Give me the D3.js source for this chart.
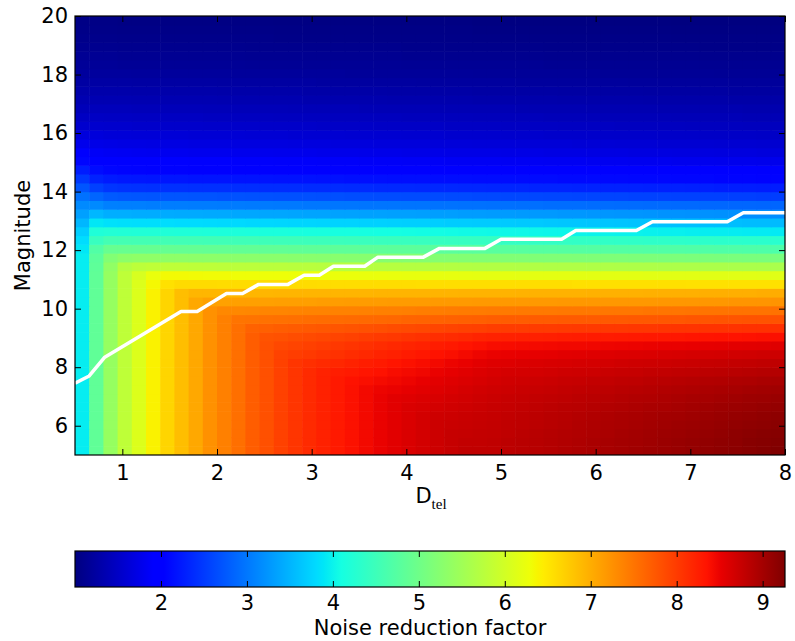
<!DOCTYPE html>
<html>
<head>
<meta charset="utf-8">
<script src="https://cdn.jsdelivr.net/npm/d3@7"></script>
<style>
  body { margin: 0; background: #fff; }
  svg text { font-family: "DejaVu Sans", sans-serif; fill: #000; }
</style>
</head>
<body>
<svg id="chart" width="795" height="641"></svg>
<script>
// Telescope diameter (cell centres, m)
const dtel = [0.575,0.725,0.875,1.025,1.175,1.325,1.475,1.625,1.775,1.925,2.075,2.225,2.375,2.525,2.675,2.825,2.975,3.125,3.275,3.425,3.575,3.725,3.875,4.025,4.175,4.325,4.475,4.625,4.775,4.925,5.075,5.225,5.375,5.525,5.675,5.825,5.975,6.125,6.275,6.425,6.575,6.725,6.875,7.025,7.175,7.325,7.475,7.625,7.775,7.925];

// Stellar magnitude (cell centres)
const magnitude = [5.15,5.45,5.75,6.05,6.35,6.65,6.95,7.25,7.55,7.85,8.15,8.45,8.75,9.05,9.35,9.65,9.95,10.25,10.55,10.85,11.15,11.45,11.75,12.05,12.35,12.65,12.95,13.25,13.55,13.85,14.15,14.45,14.75,15.05,15.35,15.65,15.95,16.25,16.55,16.85,17.15,17.45,17.75,18.05,18.35,18.65,18.95,19.25,19.55,19.85];

// Noise reduction factor: one row per magnitude, one column per diameter
const noiseFactor = [
[3.95,4.85,5.4,5.8,6.1,6.4,6.65,6.85,7.05,7.25,7.4,7.55,7.7,7.82,7.95,8.05,8.15,8.23,8.3,8.37,8.44,8.5,8.56,8.62,8.67,8.72,8.76,8.8,8.8,8.8,8.83,8.85,8.87,8.89,8.92,8.94,8.96,8.98,9.0,9.03,9.05,9.07,9.09,9.12,9.14,9.16,9.18,9.2,9.23,9.26],
[3.95,4.85,5.4,5.8,6.1,6.4,6.65,6.85,7.05,7.25,7.4,7.55,7.7,7.82,7.95,8.05,8.15,8.23,8.3,8.37,8.44,8.5,8.56,8.62,8.67,8.72,8.76,8.79,8.79,8.8,8.83,8.85,8.87,8.89,8.91,8.93,8.96,8.98,9.0,9.02,9.04,9.07,9.09,9.11,9.13,9.15,9.17,9.2,9.22,9.24],
[3.95,4.85,5.4,5.8,6.1,6.4,6.65,6.85,7.05,7.25,7.4,7.55,7.7,7.82,7.95,8.05,8.15,8.23,8.3,8.37,8.44,8.5,8.56,8.62,8.67,8.72,8.76,8.77,8.78,8.79,8.81,8.84,8.86,8.88,8.9,8.92,8.94,8.96,8.99,9.01,9.03,9.05,9.07,9.09,9.11,9.13,9.16,9.18,9.2,9.22],
[3.95,4.85,5.4,5.8,6.1,6.4,6.65,6.85,7.05,7.25,7.4,7.55,7.7,7.82,7.95,8.05,8.15,8.23,8.3,8.37,8.44,8.5,8.56,8.62,8.67,8.72,8.74,8.75,8.77,8.78,8.8,8.82,8.84,8.86,8.88,8.91,8.93,8.95,8.97,8.99,9.01,9.03,9.05,9.07,9.09,9.11,9.13,9.15,9.17,9.19],
[3.95,4.85,5.4,5.8,6.1,6.4,6.65,6.85,7.05,7.25,7.4,7.55,7.7,7.82,7.95,8.05,8.15,8.23,8.3,8.37,8.44,8.5,8.56,8.62,8.67,8.7,8.72,8.74,8.75,8.77,8.79,8.81,8.83,8.85,8.87,8.89,8.91,8.93,8.95,8.97,8.99,9.01,9.02,9.04,9.06,9.08,9.1,9.12,9.14,9.16],
[3.95,4.85,5.4,5.8,6.1,6.4,6.65,6.85,7.05,7.25,7.4,7.55,7.7,7.82,7.95,8.05,8.15,8.23,8.3,8.37,8.44,8.5,8.56,8.62,8.64,8.67,8.69,8.71,8.73,8.75,8.77,8.79,8.81,8.83,8.85,8.86,8.88,8.9,8.92,8.94,8.96,8.97,8.99,9.01,9.03,9.05,9.07,9.08,9.1,9.12],
[3.95,4.85,5.4,5.8,6.1,6.4,6.65,6.85,7.05,7.25,7.4,7.55,7.7,7.82,7.95,8.05,8.15,8.23,8.3,8.37,8.44,8.5,8.56,8.58,8.61,8.63,8.66,8.68,8.71,8.73,8.75,8.77,8.79,8.8,8.82,8.84,8.85,8.87,8.89,8.91,8.92,8.94,8.96,8.98,8.99,9.01,9.03,9.05,9.06,9.08],
[3.95,4.85,5.4,5.8,6.1,6.4,6.65,6.85,7.05,7.25,7.4,7.55,7.7,7.82,7.95,8.05,8.15,8.23,8.3,8.37,8.44,8.48,8.5,8.53,8.56,8.59,8.62,8.65,8.68,8.7,8.72,8.74,8.75,8.77,8.79,8.8,8.82,8.83,8.85,8.87,8.88,8.9,8.92,8.93,8.95,8.97,8.98,9.0,9.02,9.03],
[3.95,4.85,5.4,5.8,6.1,6.4,6.65,6.85,7.05,7.25,7.4,7.55,7.7,7.82,7.95,8.05,8.15,8.23,8.3,8.36,8.39,8.42,8.45,8.48,8.52,8.55,8.58,8.61,8.64,8.67,8.69,8.7,8.72,8.73,8.75,8.76,8.78,8.79,8.81,8.82,8.84,8.85,8.87,8.88,8.9,8.91,8.93,8.94,8.96,8.97],
[3.95,4.85,5.4,5.8,6.1,6.4,6.65,6.85,7.05,7.25,7.4,7.55,7.7,7.82,7.95,8.05,8.15,8.22,8.26,8.29,8.33,8.36,8.4,8.43,8.46,8.5,8.53,8.57,8.6,8.63,8.65,8.66,8.67,8.68,8.7,8.71,8.72,8.74,8.75,8.76,8.78,8.79,8.8,8.81,8.83,8.84,8.85,8.87,8.88,8.89],
[3.95,4.85,5.4,5.8,6.1,6.4,6.65,6.85,7.05,7.25,7.4,7.55,7.7,7.82,7.95,8.05,8.11,8.15,8.18,8.22,8.26,8.29,8.33,8.37,8.4,8.44,8.48,8.51,8.55,8.58,8.59,8.61,8.62,8.63,8.64,8.65,8.66,8.67,8.69,8.7,8.71,8.72,8.73,8.74,8.76,8.77,8.78,8.79,8.8,8.81],
[3.95,4.85,5.4,5.8,6.1,6.4,6.65,6.85,7.05,7.25,7.4,7.55,7.7,7.82,7.94,7.98,8.02,8.06,8.09,8.13,8.17,8.21,8.24,8.28,8.32,8.36,8.39,8.43,8.47,8.5,8.51,8.52,8.53,8.54,8.56,8.57,8.58,8.59,8.6,8.61,8.62,8.63,8.64,8.65,8.66,8.67,8.68,8.69,8.7,8.71],
[3.95,4.85,5.4,5.8,6.1,6.4,6.65,6.85,7.05,7.25,7.4,7.55,7.7,7.82,7.89,7.92,7.96,7.99,8.03,8.06,8.1,8.13,8.17,8.2,8.23,8.27,8.3,8.34,8.37,8.4,8.41,8.42,8.43,8.44,8.45,8.45,8.46,8.47,8.48,8.49,8.5,8.51,8.51,8.52,8.53,8.54,8.55,8.56,8.57,8.58],
[3.95,4.85,5.4,5.8,6.1,6.4,6.65,6.85,7.05,7.25,7.4,7.55,7.7,7.79,7.81,7.84,7.87,7.9,7.92,7.95,7.98,8.01,8.03,8.06,8.09,8.12,8.14,8.17,8.2,8.22,8.23,8.24,8.24,8.25,8.26,8.27,8.28,8.28,8.29,8.3,8.31,8.31,8.32,8.33,8.34,8.35,8.35,8.36,8.37,8.38],
[3.95,4.85,5.4,5.8,6.1,6.4,6.65,6.85,7.05,7.25,7.4,7.55,7.66,7.68,7.7,7.72,7.74,7.76,7.77,7.79,7.81,7.83,7.85,7.87,7.89,7.91,7.93,7.95,7.96,7.98,7.99,7.99,8.0,8.0,8.01,8.02,8.02,8.03,8.03,8.04,8.04,8.05,8.06,8.06,8.07,8.07,8.08,8.09,8.09,8.1],
[3.95,4.85,5.4,5.8,6.1,6.4,6.65,6.85,7.05,7.25,7.4,7.5,7.51,7.53,7.54,7.55,7.56,7.57,7.58,7.59,7.6,7.61,7.62,7.64,7.65,7.66,7.67,7.68,7.69,7.7,7.71,7.71,7.72,7.72,7.73,7.73,7.73,7.74,7.74,7.75,7.75,7.76,7.76,7.77,7.77,7.78,7.78,7.79,7.79,7.8],
[3.95,4.85,5.4,5.8,6.1,6.4,6.65,6.85,7.05,7.25,7.33,7.33,7.34,7.35,7.35,7.36,7.37,7.37,7.38,7.38,7.39,7.4,7.4,7.41,7.42,7.42,7.43,7.44,7.44,7.45,7.45,7.46,7.46,7.46,7.47,7.47,7.47,7.48,7.48,7.48,7.49,7.49,7.49,7.5,7.5,7.5,7.51,7.51,7.51,7.52],
[3.95,4.85,5.4,5.8,6.1,6.4,6.65,6.85,7.05,7.11,7.11,7.12,7.12,7.12,7.13,7.13,7.13,7.14,7.14,7.15,7.15,7.15,7.16,7.16,7.16,7.17,7.17,7.17,7.18,7.18,7.18,7.18,7.18,7.18,7.19,7.19,7.19,7.19,7.19,7.19,7.19,7.2,7.2,7.2,7.2,7.2,7.21,7.21,7.21,7.22],
[3.95,4.85,5.4,5.8,6.1,6.4,6.65,6.85,6.92,6.92,6.92,6.92,6.92,6.92,6.93,6.93,6.93,6.93,6.93,6.93,6.93,6.94,6.94,6.94,6.94,6.94,6.94,6.95,6.95,6.95,6.95,6.96,6.96,6.96,6.96,6.96,6.97,6.97,6.97,6.97,6.98,6.98,6.98,6.98,6.99,6.99,6.99,6.99,7.0,7.0],
[3.95,4.85,5.4,5.8,6.1,6.35,6.55,6.6,6.6,6.6,6.59,6.59,6.59,6.59,6.59,6.59,6.59,6.58,6.58,6.58,6.58,6.58,6.58,6.58,6.57,6.57,6.57,6.57,6.57,6.57,6.57,6.57,6.57,6.57,6.57,6.56,6.56,6.56,6.56,6.56,6.56,6.56,6.56,6.55,6.55,6.55,6.55,6.55,6.55,6.55],
[3.95,4.85,5.4,5.8,6.05,6.25,6.33,6.33,6.32,6.31,6.31,6.3,6.3,6.29,6.29,6.28,6.27,6.27,6.26,6.26,6.25,6.25,6.24,6.23,6.23,6.22,6.22,6.21,6.2,6.2,6.2,6.19,6.19,6.19,6.19,6.18,6.18,6.18,6.18,6.18,6.17,6.17,6.17,6.17,6.16,6.16,6.16,6.16,6.15,6.15],
[3.95,4.83,5.35,5.7,5.78,5.81,5.8,5.8,5.79,5.79,5.78,5.77,5.77,5.76,5.76,5.75,5.75,5.74,5.74,5.73,5.73,5.72,5.72,5.71,5.71,5.7,5.7,5.69,5.68,5.68,5.68,5.67,5.67,5.66,5.66,5.66,5.65,5.65,5.64,5.64,5.64,5.63,5.63,5.63,5.62,5.62,5.61,5.61,5.61,5.6],
[3.95,4.8,5.2,5.3,5.33,5.33,5.32,5.32,5.31,5.31,5.3,5.29,5.29,5.28,5.28,5.27,5.27,5.26,5.26,5.25,5.25,5.24,5.24,5.23,5.23,5.22,5.22,5.21,5.2,5.2,5.19,5.19,5.18,5.18,5.18,5.17,5.17,5.16,5.16,5.15,5.15,5.14,5.14,5.13,5.13,5.12,5.12,5.11,5.11,5.1],
[3.9,4.7,4.92,4.92,4.91,4.91,4.9,4.89,4.89,4.88,4.88,4.87,4.87,4.86,4.86,4.85,4.84,4.84,4.83,4.83,4.82,4.82,4.81,4.81,4.8,4.79,4.79,4.78,4.78,4.77,4.77,4.76,4.75,4.75,4.74,4.74,4.73,4.73,4.72,4.72,4.71,4.7,4.7,4.69,4.69,4.68,4.68,4.67,4.67,4.66],
[3.82,4.45,4.57,4.57,4.56,4.56,4.55,4.54,4.54,4.53,4.53,4.52,4.52,4.51,4.5,4.5,4.49,4.49,4.48,4.47,4.47,4.46,4.46,4.45,4.45,4.44,4.43,4.43,4.42,4.42,4.41,4.4,4.4,4.39,4.39,4.38,4.38,4.37,4.36,4.36,4.35,4.35,4.34,4.33,4.33,4.32,4.32,4.31,4.31,4.3],
[3.7,4.2,4.23,4.22,4.21,4.21,4.2,4.19,4.19,4.18,4.17,4.17,4.16,4.15,4.15,4.14,4.13,4.13,4.12,4.12,4.11,4.1,4.1,4.09,4.08,4.08,4.07,4.06,4.06,4.05,4.04,4.04,4.03,4.02,4.02,4.01,4.0,4.0,3.99,3.99,3.98,3.97,3.97,3.96,3.95,3.95,3.94,3.93,3.93,3.92],
[3.52,3.9,3.85,3.84,3.83,3.83,3.82,3.81,3.81,3.8,3.79,3.79,3.78,3.78,3.77,3.76,3.76,3.75,3.74,3.74,3.73,3.73,3.72,3.71,3.71,3.7,3.69,3.69,3.68,3.68,3.67,3.66,3.66,3.65,3.64,3.64,3.63,3.63,3.62,3.61,3.61,3.6,3.59,3.59,3.58,3.58,3.57,3.56,3.56,3.55],
[3.33,3.52,3.44,3.44,3.43,3.43,3.42,3.41,3.41,3.4,3.4,3.39,3.39,3.38,3.38,3.37,3.36,3.36,3.35,3.35,3.34,3.34,3.33,3.33,3.32,3.31,3.31,3.3,3.3,3.29,3.29,3.28,3.27,3.27,3.26,3.26,3.25,3.25,3.24,3.24,3.23,3.22,3.22,3.21,3.21,3.2,3.2,3.19,3.19,3.18],
[3.15,3.15,3.07,3.06,3.06,3.05,3.05,3.05,3.04,3.04,3.03,3.03,3.02,3.02,3.01,3.01,3.0,3.0,2.99,2.99,2.98,2.98,2.98,2.97,2.97,2.96,2.96,2.95,2.95,2.94,2.94,2.93,2.93,2.92,2.92,2.92,2.91,2.91,2.9,2.9,2.89,2.89,2.88,2.88,2.87,2.87,2.86,2.86,2.85,2.85],
[2.95,2.85,2.76,2.74,2.73,2.72,2.72,2.72,2.71,2.71,2.7,2.7,2.69,2.69,2.68,2.68,2.68,2.67,2.67,2.66,2.66,2.65,2.65,2.64,2.64,2.64,2.63,2.63,2.62,2.62,2.61,2.61,2.61,2.6,2.6,2.59,2.59,2.58,2.58,2.57,2.57,2.57,2.56,2.56,2.55,2.55,2.54,2.54,2.53,2.53],
[2.72,2.55,2.46,2.44,2.43,2.42,2.42,2.42,2.41,2.41,2.41,2.4,2.4,2.39,2.39,2.39,2.38,2.38,2.38,2.37,2.37,2.36,2.36,2.36,2.35,2.35,2.35,2.34,2.34,2.33,2.33,2.33,2.32,2.32,2.32,2.31,2.31,2.3,2.3,2.3,2.29,2.29,2.29,2.28,2.28,2.27,2.27,2.27,2.26,2.26],
[2.48,2.3,2.24,2.22,2.21,2.2,2.2,2.2,2.19,2.19,2.19,2.18,2.18,2.18,2.17,2.17,2.17,2.16,2.16,2.15,2.15,2.15,2.14,2.14,2.14,2.13,2.13,2.13,2.12,2.12,2.12,2.11,2.11,2.11,2.1,2.1,2.1,2.09,2.09,2.08,2.08,2.08,2.07,2.07,2.07,2.06,2.06,2.06,2.05,2.05],
[2.26,2.12,2.07,2.06,2.05,2.04,2.04,2.04,2.03,2.03,2.03,2.02,2.02,2.02,2.01,2.01,2.01,2.0,2.0,2.0,1.99,1.99,1.99,1.98,1.98,1.98,1.97,1.97,1.97,1.97,1.96,1.96,1.96,1.95,1.95,1.95,1.94,1.94,1.94,1.93,1.93,1.93,1.92,1.92,1.92,1.91,1.91,1.91,1.9,1.9],
[2.07,1.97,1.94,1.93,1.92,1.91,1.91,1.91,1.9,1.9,1.9,1.89,1.89,1.89,1.88,1.88,1.88,1.87,1.87,1.87,1.86,1.86,1.86,1.85,1.85,1.85,1.84,1.84,1.84,1.84,1.83,1.83,1.83,1.82,1.82,1.82,1.81,1.81,1.81,1.8,1.8,1.8,1.79,1.79,1.79,1.78,1.78,1.78,1.77,1.77],
[1.9,1.85,1.83,1.82,1.81,1.8,1.8,1.8,1.79,1.79,1.79,1.78,1.78,1.78,1.77,1.77,1.77,1.76,1.76,1.76,1.75,1.75,1.75,1.74,1.74,1.74,1.73,1.73,1.73,1.73,1.72,1.72,1.72,1.71,1.71,1.71,1.7,1.7,1.7,1.69,1.69,1.69,1.68,1.68,1.68,1.67,1.67,1.67,1.66,1.66],
[1.77,1.74,1.72,1.71,1.71,1.7,1.7,1.7,1.69,1.69,1.69,1.68,1.68,1.68,1.68,1.67,1.67,1.67,1.66,1.66,1.66,1.65,1.65,1.65,1.65,1.64,1.64,1.64,1.63,1.63,1.63,1.62,1.62,1.62,1.62,1.61,1.61,1.61,1.6,1.6,1.6,1.59,1.59,1.59,1.59,1.58,1.58,1.58,1.57,1.57],
[1.66,1.65,1.63,1.63,1.62,1.62,1.62,1.62,1.61,1.61,1.61,1.61,1.6,1.6,1.6,1.59,1.59,1.59,1.59,1.58,1.58,1.58,1.58,1.57,1.57,1.57,1.56,1.56,1.56,1.56,1.55,1.55,1.55,1.54,1.54,1.54,1.54,1.53,1.53,1.53,1.53,1.52,1.52,1.52,1.51,1.51,1.51,1.51,1.5,1.5],
[1.56,1.56,1.55,1.55,1.54,1.54,1.54,1.54,1.54,1.53,1.53,1.53,1.53,1.52,1.52,1.52,1.52,1.51,1.51,1.51,1.51,1.5,1.5,1.5,1.5,1.5,1.49,1.49,1.49,1.49,1.48,1.48,1.48,1.48,1.47,1.47,1.47,1.47,1.46,1.46,1.46,1.46,1.46,1.45,1.45,1.45,1.45,1.44,1.44,1.44],
[1.48,1.49,1.48,1.48,1.47,1.47,1.47,1.47,1.47,1.46,1.46,1.46,1.46,1.46,1.45,1.45,1.45,1.45,1.44,1.44,1.44,1.44,1.44,1.43,1.43,1.43,1.43,1.43,1.42,1.42,1.42,1.42,1.42,1.41,1.41,1.41,1.41,1.4,1.4,1.4,1.4,1.4,1.39,1.39,1.39,1.39,1.39,1.38,1.38,1.38],
[1.41,1.42,1.42,1.42,1.41,1.41,1.41,1.41,1.41,1.4,1.4,1.4,1.4,1.4,1.4,1.39,1.39,1.39,1.39,1.39,1.38,1.38,1.38,1.38,1.38,1.37,1.37,1.37,1.37,1.37,1.37,1.36,1.36,1.36,1.36,1.36,1.35,1.35,1.35,1.35,1.35,1.34,1.34,1.34,1.34,1.34,1.34,1.33,1.33,1.33],
[1.35,1.36,1.36,1.36,1.35,1.35,1.35,1.35,1.35,1.35,1.34,1.34,1.34,1.34,1.34,1.34,1.33,1.33,1.33,1.33,1.33,1.33,1.32,1.32,1.32,1.32,1.32,1.32,1.31,1.31,1.31,1.31,1.31,1.31,1.3,1.3,1.3,1.3,1.3,1.3,1.29,1.29,1.29,1.29,1.29,1.29,1.28,1.28,1.28,1.28],
[1.3,1.31,1.31,1.31,1.3,1.3,1.3,1.3,1.3,1.3,1.29,1.29,1.29,1.29,1.29,1.29,1.28,1.28,1.28,1.28,1.28,1.28,1.27,1.27,1.27,1.27,1.27,1.27,1.26,1.26,1.26,1.26,1.26,1.26,1.25,1.25,1.25,1.25,1.25,1.25,1.24,1.24,1.24,1.24,1.24,1.24,1.23,1.23,1.23,1.23],
[1.25,1.26,1.26,1.26,1.25,1.25,1.25,1.25,1.25,1.25,1.24,1.24,1.24,1.24,1.24,1.24,1.24,1.23,1.23,1.23,1.23,1.23,1.23,1.23,1.22,1.22,1.22,1.22,1.22,1.22,1.22,1.21,1.21,1.21,1.21,1.21,1.21,1.21,1.21,1.2,1.2,1.2,1.2,1.2,1.2,1.2,1.19,1.19,1.19,1.19],
[1.21,1.21,1.21,1.21,1.2,1.2,1.2,1.2,1.2,1.2,1.2,1.19,1.19,1.19,1.19,1.19,1.19,1.19,1.19,1.18,1.18,1.18,1.18,1.18,1.18,1.18,1.18,1.18,1.17,1.17,1.17,1.17,1.17,1.17,1.17,1.17,1.17,1.16,1.16,1.16,1.16,1.16,1.16,1.16,1.16,1.15,1.15,1.15,1.15,1.15],
[1.17,1.17,1.17,1.16,1.16,1.16,1.16,1.16,1.16,1.16,1.16,1.16,1.15,1.15,1.15,1.15,1.15,1.15,1.15,1.15,1.15,1.15,1.15,1.14,1.14,1.14,1.14,1.14,1.14,1.14,1.14,1.14,1.14,1.13,1.13,1.13,1.13,1.13,1.13,1.13,1.13,1.13,1.13,1.13,1.12,1.12,1.12,1.12,1.12,1.12],
[1.14,1.14,1.14,1.13,1.13,1.13,1.13,1.13,1.13,1.13,1.13,1.13,1.12,1.12,1.12,1.12,1.12,1.12,1.12,1.12,1.12,1.12,1.12,1.11,1.11,1.11,1.11,1.11,1.11,1.11,1.11,1.11,1.11,1.1,1.1,1.1,1.1,1.1,1.1,1.1,1.1,1.1,1.1,1.1,1.09,1.09,1.09,1.09,1.09,1.09],
[1.11,1.11,1.11,1.1,1.1,1.1,1.1,1.1,1.1,1.1,1.1,1.1,1.09,1.09,1.09,1.09,1.09,1.09,1.09,1.09,1.09,1.09,1.09,1.08,1.08,1.08,1.08,1.08,1.08,1.08,1.08,1.08,1.08,1.07,1.07,1.07,1.07,1.07,1.07,1.07,1.07,1.07,1.07,1.07,1.06,1.06,1.06,1.06,1.06,1.06],
[1.08,1.08,1.08,1.07,1.07,1.07,1.07,1.07,1.07,1.07,1.07,1.07,1.07,1.07,1.06,1.06,1.06,1.06,1.06,1.06,1.06,1.06,1.06,1.06,1.06,1.06,1.06,1.06,1.05,1.05,1.05,1.05,1.05,1.05,1.05,1.05,1.05,1.05,1.05,1.05,1.05,1.05,1.04,1.04,1.04,1.04,1.04,1.04,1.04,1.04],
[1.06,1.06,1.06,1.05,1.05,1.05,1.05,1.05,1.05,1.05,1.05,1.05,1.05,1.05,1.04,1.04,1.04,1.04,1.04,1.04,1.04,1.04,1.04,1.04,1.04,1.04,1.04,1.04,1.03,1.03,1.03,1.03,1.03,1.03,1.03,1.03,1.03,1.03,1.03,1.03,1.03,1.03,1.02,1.02,1.02,1.02,1.02,1.02,1.02,1.02],
[1.04,1.04,1.04,1.03,1.03,1.03,1.03,1.03,1.03,1.03,1.03,1.03,1.03,1.03,1.02,1.02,1.02,1.02,1.02,1.02,1.02,1.02,1.02,1.02,1.02,1.02,1.02,1.02,1.01,1.01,1.01,1.01,1.01,1.01,1.01,1.01,1.01,1.01,1.01,1.01,1.01,1.01,1.0,1.0,1.0,1.0,1.0,1.0,1.0,1.0]
];

// Limiting magnitude curve
const limitD   = [0.5, 0.65, 0.81, 1.62, 1.79, 2.1, 2.27, 2.44, 2.75, 2.92, 3.08, 3.23, 3.56, 3.7, 4.18, 4.35, 4.83, 5.0, 5.64, 5.79, 6.43, 6.6, 7.39, 7.56, 8.0];
const limitMag = [7.45, 7.7, 8.33, 9.9, 9.9, 10.52, 10.52, 10.83, 10.83, 11.14, 11.14, 11.45, 11.45, 11.76, 11.76, 12.06, 12.06, 12.37, 12.37, 12.67, 12.67, 12.97, 12.97, 13.28, 13.28];

const xTicks = [1, 2, 3, 4, 5, 6, 7, 8];
const yTicks = [6, 8, 10, 12, 14, 16, 18, 20];
const barTicks = [2, 3, 4, 5, 6, 7, 8, 9];

// ---------------------------------------------------------------------------
const svg = d3.select("#chart");
const FONT = 21;
const plot = { left: 75, right: 785, top: 16, bottom: 455 };
const bar = { top: 551, bottom: 587 };

const x = d3.scaleLinear().domain([0.5, 8]).range([plot.left, plot.right]);
const y = d3.scaleLinear().domain([5, 20]).range([plot.bottom, plot.top]);

// jet colour map, piecewise linear between its break points
const jetStops = [0, 0.11, 0.125, 0.34, 0.35, 0.375, 0.64, 0.65, 0.66, 0.89, 0.91, 1];
const jetColors = ["#000080", "#0000ff", "#0000ff", "#00dbff", "#00e6f7", "#15ffe2",
                   "#eeff08", "#f7f600", "#ffec00", "#ff1300", "#e80000", "#800000"];
const allValues = noiseFactor.flat();
const [vmin, vmax] = d3.extent(allValues);
const color = d3.scaleLinear()
  .domain(jetStops.map(t => vmin + t * (vmax - vmin)))
  .range(jetColors)
  .interpolate(d3.interpolateRgb)
  .clamp(true);

const defs = svg.append("defs");
defs.append("clipPath").attr("id", "plotClip")
  .append("rect")
  .attr("x", plot.left).attr("y", plot.top)
  .attr("width", plot.right - plot.left).attr("height", plot.bottom - plot.top);

// heat map cells
const halfD = (dtel[1] - dtel[0]) / 2;
const halfM = (magnitude[1] - magnitude[0]) / 2;
const cells = [];
noiseFactor.forEach((row, j) => row.forEach((v, i) => cells.push({ d: dtel[i], m: magnitude[j], v })));

svg.append("g").attr("clip-path", "url(#plotClip)")
  .selectAll("rect").data(cells).join("rect")
  .attr("x", c => x(c.d - halfD))
  .attr("y", c => y(c.m + halfM))
  .attr("width", c => x(c.d + halfD) - x(c.d - halfD) + 0.6)
  .attr("height", c => y(c.m - halfM) - y(c.m + halfM) + 0.6)
  .attr("fill", c => color(c.v));

// limiting magnitude line
const limitLine = d3.line().x(d => x(d[0])).y(d => y(d[1]));
svg.append("path")
  .datum(limitD.map((d, i) => [d, limitMag[i]]))
  .attr("clip-path", "url(#plotClip)")
  .attr("d", limitLine)
  .attr("fill", "none")
  .attr("stroke", "#fff")
  .attr("stroke-width", 3.5)
  .attr("stroke-linejoin", "round");

// axes with inward ticks on all four sides
function styleAxis(g) {
  g.attr("font-size", FONT).attr("font-family", "DejaVu Sans");
  g.select(".domain").remove();
  g.selectAll(".tick line").attr("stroke", "#000").attr("stroke-width", 1);
}
svg.append("g").attr("transform", `translate(0,${plot.bottom})`)
  .call(d3.axisBottom(x).tickValues(xTicks).tickFormat(d3.format("d"))
        .tickSizeInner(-6).tickSizeOuter(0).tickPadding(10))
  .call(styleAxis);
svg.append("g").attr("transform", `translate(0,${plot.top})`)
  .call(d3.axisTop(x).tickValues(xTicks).tickFormat(() => "")
        .tickSizeInner(-6).tickSizeOuter(0))
  .call(styleAxis);
svg.append("g").attr("transform", `translate(${plot.left},0)`)
  .call(d3.axisLeft(y).tickValues(yTicks).tickFormat(d3.format("d"))
        .tickSizeInner(-6).tickSizeOuter(0).tickPadding(7))
  .call(styleAxis);
svg.append("g").attr("transform", `translate(${plot.right},0)`)
  .call(d3.axisRight(y).tickValues(yTicks).tickFormat(() => "")
        .tickSizeInner(-6).tickSizeOuter(0))
  .call(styleAxis);

svg.append("rect")
  .attr("x", plot.left).attr("y", plot.top)
  .attr("width", plot.right - plot.left).attr("height", plot.bottom - plot.top)
  .attr("fill", "none").attr("stroke", "#000").attr("stroke-width", 1.2);

// axis titles
const xTitle = svg.append("text")
  .attr("x", (plot.left + plot.right) / 2 + 1).attr("y", 503)
  .attr("text-anchor", "middle").attr("font-size", FONT);
xTitle.append("tspan").text("D");
xTitle.append("tspan").attr("font-family", "Liberation Serif").attr("font-size", 15)
  .attr("dy", 6).text("tel");

svg.append("text")
  .attr("transform", `translate(30,${(plot.top + plot.bottom) / 2}) rotate(-90)`)
  .attr("text-anchor", "middle").attr("font-size", FONT)
  .text("Magnitude");

// colour bar
const xc = d3.scaleLinear().domain([vmin, vmax]).range([plot.left, plot.right]);
const grad = defs.append("linearGradient").attr("id", "jetGrad")
  .attr("x1", "0%").attr("x2", "100%").attr("y1", "0%").attr("y2", "0%");
grad.selectAll("stop").data(jetStops).join("stop")
  .attr("offset", t => `${t * 100}%`)
  .attr("stop-color", (t, i) => jetColors[i]);

svg.append("rect")
  .attr("x", xc(vmin)).attr("y", bar.top)
  .attr("width", xc(vmax) - xc(vmin)).attr("height", bar.bottom - bar.top)
  .attr("fill", "url(#jetGrad)");

svg.append("g").attr("transform", `translate(0,${bar.bottom})`)
  .call(d3.axisBottom(xc).tickValues(barTicks).tickFormat(d3.format("d"))
        .tickSizeInner(-6).tickSizeOuter(0).tickPadding(8))
  .call(styleAxis);
svg.append("g").attr("transform", `translate(0,${bar.top})`)
  .call(d3.axisTop(xc).tickValues(barTicks).tickFormat(() => "")
        .tickSizeInner(-6).tickSizeOuter(0))
  .call(styleAxis);

svg.append("rect")
  .attr("x", xc(vmin)).attr("y", bar.top)
  .attr("width", xc(vmax) - xc(vmin)).attr("height", bar.bottom - bar.top)
  .attr("fill", "none").attr("stroke", "#000").attr("stroke-width", 1.2);

svg.append("text")
  .attr("x", (plot.left + plot.right) / 2).attr("y", 635)
  .attr("text-anchor", "middle").attr("font-size", FONT)
  .text("Noise reduction factor");
</script>
</body>
</html>
